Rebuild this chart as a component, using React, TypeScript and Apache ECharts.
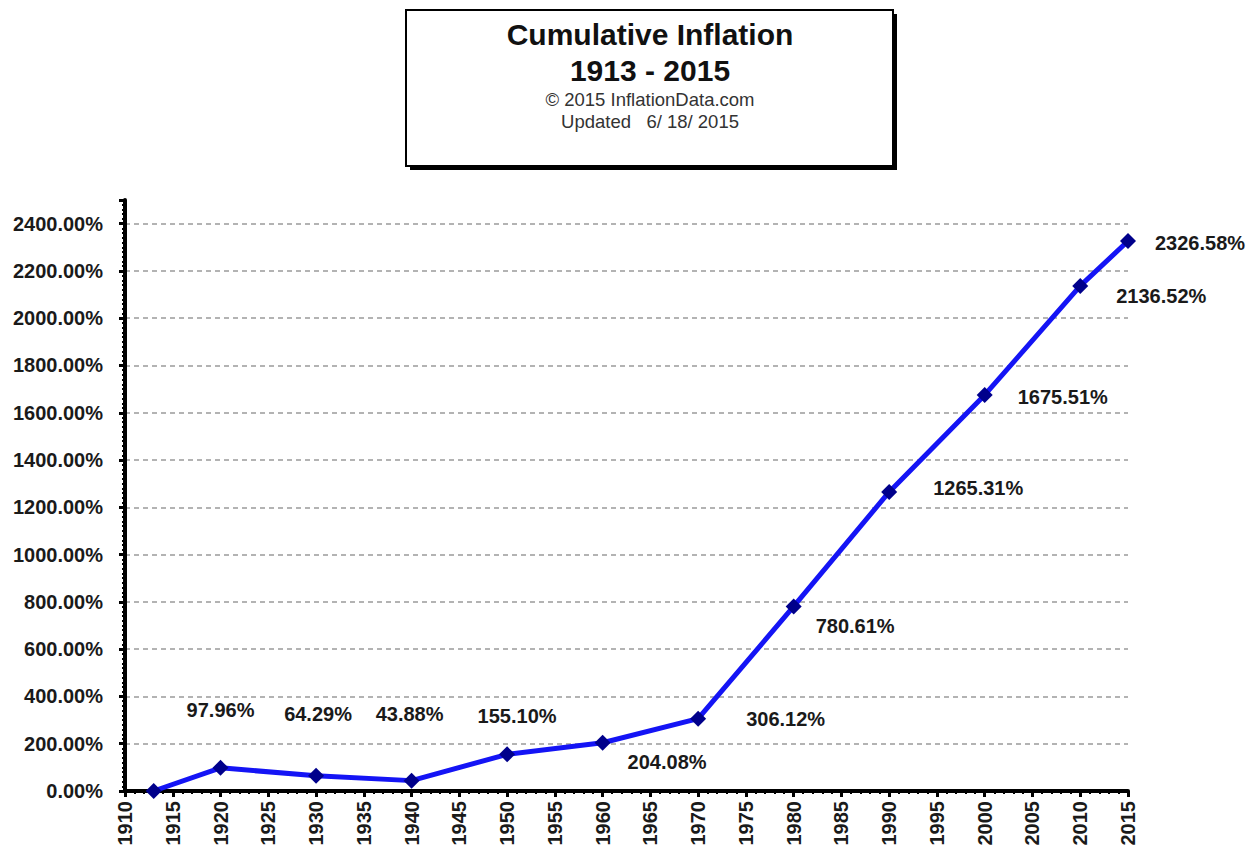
import React, { useEffect, useRef } from "react";
import * as echarts from "echarts";

const years = [1913, 1920, 1930, 1940, 1950, 1960, 1970, 1980, 1990, 2000, 2010, 2015];
const values = [0, 97.96, 64.29, 43.88, 155.1, 204.08, 306.12, 780.61, 1265.31, 1675.51, 2136.52, 2326.58];
const titleLines = ["Cumulative Inflation", "1913 - 2015", "© 2015 InflationData.com", "Updated   6/ 18/ 2015"];

// label placement per point (style config, separate from the data)
const labelStyle: Record<number, any> = {
  1913: { show: false },
  1920: { position: "top", distance: 40, offset: [0, 0] },
  1930: { position: "top", distance: 44, offset: [2, 0] },
  1940: { position: "top", distance: 49, offset: [-2, 0] },
  1950: { position: "top", distance: 20, offset: [10, 0] },
  1960: { position: "right", distance: 17, offset: [0, 19] },
  1970: { position: "right", distance: 40, offset: [0, 0] },
  1980: { position: "right", distance: 14, offset: [0, 20] },
  1990: { position: "right", distance: 36, offset: [0, -4] },
  2000: { position: "right", distance: 25, offset: [0, 2] },
  2010: { position: "right", distance: 28, offset: [0, 10] },
  2015: { position: "right", distance: 19, offset: [0, 2] },
};

const FONT = "'Liberation Sans', Arial, sans-serif";

export default function App() {
  const ref = useRef<HTMLDivElement>(null);
  useEffect(() => {
    if (!ref.current) return;
    const chart = echarts.init(ref.current, null, { renderer: "svg" });
    const data = years.map((y, i) => ({
      value: [y, values[i]],
      label: labelStyle[y],
    }));
    chart.setOption({
      animation: false,
      backgroundColor: "#ffffff",
      grid: { left: 125, right: 120, top: 200, bottom: 61, containLabel: false },
      xAxis: {
        type: "value",
        min: 1910,
        max: 2015,
        interval: 5,
        axisLine: { show: true, onZero: false, lineStyle: { color: "#000", width: 4 } },
        axisTick: { show: true, length: 6, lineStyle: { color: "#000", width: 3 } },
        minorTick: { show: true, splitNumber: 5, length: 3, lineStyle: { color: "#000", width: 2 } },
        splitLine: { show: false },
        axisLabel: {
          rotate: 90,
          margin: 10,
          color: "#1a1a1a",
          fontFamily: FONT,
          fontWeight: "bold",
          fontSize: 20,
          formatter: (v: number) => String(v),
        },
      },
      yAxis: {
        type: "value",
        min: 0,
        max: 2500,
        interval: 200,
        axisLine: { show: true, lineStyle: { color: "#000", width: 4 } },
        axisTick: { show: true, length: 6, lineStyle: { color: "#000", width: 3 } },
        minorTick: { show: true, splitNumber: 10, length: 3, lineStyle: { color: "#000", width: 2 } },
        splitLine: {
          show: true,
          showMinLine: false,
          showMaxLine: false,
          lineStyle: { color: "#9a9a9a", type: [5, 4], width: 1.5 },
        },
        axisLabel: {
          showMaxLabel: false,
          margin: 22,
          color: "#1a1a1a",
          fontFamily: FONT,
          fontWeight: "bold",
          fontSize: 20,
          formatter: (v: number) => v.toFixed(2) + "%",
        },
      },
      series: [
        {
          type: "line",
          data,
          symbol: "diamond",
          symbolSize: 16,
          itemStyle: { color: "#00008b" },
          lineStyle: { color: "#1414f5", width: 5 },
          label: {
            show: true,
            color: "#1a1a1a",
            fontFamily: FONT,
            fontWeight: "bold",
            fontSize: 20,
            formatter: (p: any) => p.value[1].toFixed(2) + "%",
          },
          z: 5,
        },
      ],
      graphic: [
        { type: "rect", shape: { x: 410, y: 14, width: 487, height: 156 }, style: { fill: "#000" }, z: 1 },
        {
          type: "rect",
          shape: { x: 406, y: 10, width: 487, height: 156 },
          style: { fill: "#fff", stroke: "#000", lineWidth: 2 },
          z: 2,
        },
        {
          type: "text",
          x: 650,
          y: 34,
          z: 3,
          style: {
            text: titleLines[0],
            fill: "#111",
            font: `bold 30px ${FONT}`,
            textAlign: "center",
            textVerticalAlign: "middle",
          },
        },
        {
          type: "text",
          x: 650,
          y: 70,
          z: 3,
          style: {
            text: titleLines[1],
            fill: "#111",
            font: `bold 30px ${FONT}`,
            textAlign: "center",
            textVerticalAlign: "middle",
          },
        },
        {
          type: "text",
          x: 650,
          y: 99,
          z: 3,
          style: {
            text: titleLines[2],
            fill: "#333",
            font: `18.5px ${FONT}`,
            textAlign: "center",
            textVerticalAlign: "middle",
          },
        },
        {
          type: "text",
          x: 650,
          y: 121,
          z: 3,
          style: {
            text: titleLines[3],
            fill: "#333",
            font: `18.5px ${FONT}`,
            textAlign: "center",
            textVerticalAlign: "middle",
          },
        },
      ],
    });
    return () => chart.dispose();
  }, []);
  return <div ref={ref} style={{ position: "absolute", left: 0, top: 0, width: 1248, height: 852 }} />;
}
